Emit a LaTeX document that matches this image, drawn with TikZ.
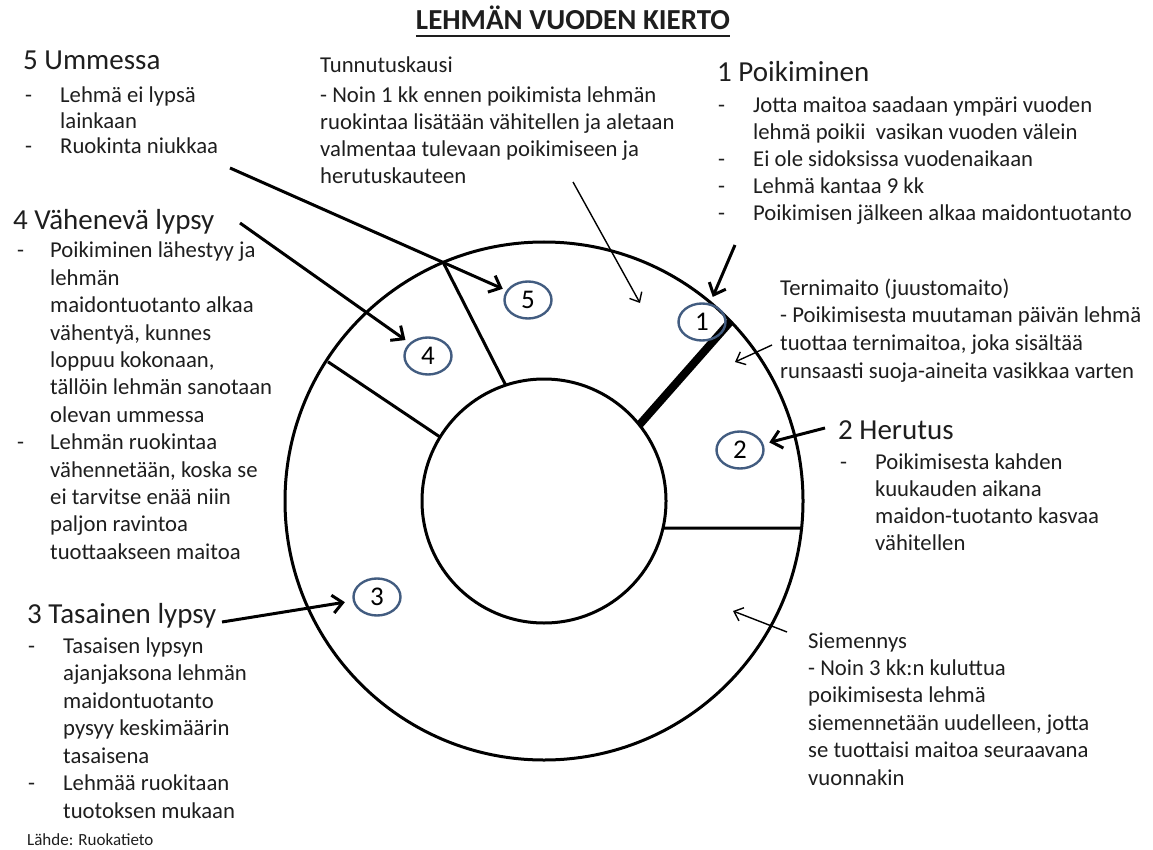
\documentclass[tikz,border=0pt]{standalone}
\usepackage{fontspec}
\setmainfont{Carlito}
\usetikzlibrary{shapes.geometric,arrows.meta}
\definecolor{numblue}{RGB}{66,92,128}
\definecolor{txtcol}{RGB}{30,30,30}
\newlength{\bulind}
\setlength{\bulind}{35pt}
\newcommand{\itm}[1]{\makebox[\bulind][l]{-}#1}
\newcommand{\itc}[1]{\hspace*{\bulind}#1}
\newcommand{\blk}[1]{\begin{tabular}[t]{@{}l@{}}#1\end{tabular}}
\tikzset{
  ring/.style={line width=3pt},
  txt/.style={anchor=base west, inner sep=0pt, text=txtcol, font=\fontsize{22.7}{27.3}\selectfont},
  head/.style={anchor=base west, inner sep=0pt, text=txtcol, font=\fontsize{29}{34}\selectfont},
  num/.style={ellipse, draw=numblue, line width=2.4pt, minimum width=47pt, minimum height=37pt, inner sep=0pt, font=\fontsize{27}{30}\selectfont},
  bigarrow/.style={line width=3pt, -{Straight Barb[length=10pt,width=18pt]}},
  thinarrow/.style={line width=1.4pt, -{Straight Barb[length=8pt,width=14pt]}},
}
\begin{document}
\begin{tikzpicture}[x=1pt,y=-1pt]
\useasboundingbox[fill=white] (0,0) rectangle (1153,850);

% title
\node[anchor=base, inner sep=0pt, text=txtcol, font=\fontsize{29}{34}\selectfont\bfseries] (ttl) at (573,30) {LEHMÄN VUODEN KIERTO};
\draw[line width=2pt, txtcol] ([yshift=-6pt]ttl.base west) -- ([yshift=-6pt]ttl.base east);

% rings
\coordinate (c) at (544,501);
\draw[ring] (c) circle[radius=259pt];
\draw[ring] (c) circle[radius=122pt];
\draw[ring] ([shift={(108.3:122pt)}]c) -- ([shift={(112.9:259pt)}]c);
\draw[ring] ([shift={(148.4:122pt)}]c) -- ([shift={(147.2:257pt)}]c);
\draw[ring] ([shift={(-12.8:122pt)}]c) -- ([shift={(-6:259pt)}]c);
\draw[line width=8pt] ([shift={(38.6:122pt)}]c) -- ([shift={(43.9:259pt)}]c);

% circled numbers
\node[num] (n1) at (702,322) {1};
\node[num] (n2) at (740,450) {2};
\node[num] (n3) at (377,597) {3};
\node[num] (n4) at (428,356) {4};
\node[num] (n5) at (528,300) {5};

% 5 Ummessa
\node[head] (h5) at (23,70) {5 Ummessa};
\node[txt, font=\fontsize{22.7}{25.5}\selectfont] (b5) at (25,103) {\blk{\itm{Lehmä ei lypsä}\\ \itc{lainkaan}\\ \itm{Ruokinta niukkaa}}};

% Tunnutuskausi
\node[txt] (ht) at (320,73) {Tunnutuskausi};
\node[txt, font=\fontsize{22.7}{26.7}\selectfont] (bt) at (320,103) {\blk{- Noin 1 kk ennen poikimista lehmän\\ ruokintaa lisätään vähitellen ja aletaan\\ valmentaa tulevaan poikimiseen ja\\ herutuskauteen}};

% 1 Poikiminen
\node[head] (h1) at (717,82) {1 Poikiminen};
\node[txt, font=\fontsize{22.7}{26.8}\selectfont] (b1) at (718,113) {\blk{\itm{Jotta maitoa saadaan ympäri vuoden}\\ \itc{lehmä poikii\ \ vasikan vuoden välein}\\ \itm{Ei ole sidoksissa vuodenaikaan}\\ \itm{Lehmä kantaa 9 kk}\\ \itm{Poikimisen jälkeen alkaa maidontuotanto}}};

% Ternimaito
\node[txt, font=\fontsize{22.7}{27.7}\selectfont] (bm) at (780,295) {\blk{Ternimaito (juustomaito)\\ - Poikimisesta muutaman päivän lehmä\\ tuottaa ternimaitoa, joka sisältää\\ runsaasti suoja-aineita vasikkaa varten}};

% 4 Vahenevä lypsy
\node[head] (h4) at (13,230) {4 Vähenevä lypsy};
\node[txt, font=\fontsize{22.7}{27.4}\selectfont] (b4) at (17,258) {\setlength{\bulind}{33pt}\blk{\itm{Poikiminen lähestyy ja}\\ \itc{lehmän}\\ \itc{maidontuotanto alkaa}\\ \itc{vähentyä, kunnes}\\ \itc{loppuu kokonaan,}\\ \itc{tällöin lehmän sanotaan}\\ \itc{olevan ummessa}\\ \itm{Lehmän ruokintaa}\\ \itc{vähennetään, koska se}\\ \itc{ei tarvitse enää niin}\\ \itc{paljon ravintoa}\\ \itc{tuottaakseen maitoa}}};

% 2 Herutus
\node[head] (h2) at (838,439) {2 Herutus};
\node[txt, font=\fontsize{22.7}{27}\selectfont] (b2) at (840,469) {\blk{\itm{Poikimisesta kahden}\\ \itc{kuukauden aikana}\\ \itc{maidon-tuotanto kasvaa}\\ \itc{vähitellen}}};

% 3 Tasainen lypsy
\node[head] (h3) at (27,623) {3 Tasainen lypsy};
\node[txt, font=\fontsize{22.7}{27.5}\selectfont] (b3) at (28,653) {\blk{\itm{Tasaisen lypsyn}\\ \itc{ajanjaksona lehmän}\\ \itc{maidontuotanto}\\ \itc{pysyy keskimäärin}\\ \itc{tasaisena}\\ \itm{Lehmää ruokitaan}\\ \itc{tuotoksen mukaan}}};

% Siemennys
\node[txt, font=\fontsize{22.7}{27.4}\selectfont] (bs) at (808,648) {\blk{Siemennys\\ - Noin 3 kk:n kuluttua\\ poikimisesta lehmä\\ siemennetään uudelleen, jotta\\ se tuottaisi maitoa seuraavana\\ vuonnakin}};

% source
\node[txt, font=\fontsize{17}{20}\selectfont] (src) at (27,845) {Lähde: Ruokatieto};

% arrows
\coordinate (a5) at (230,168);
\coordinate (a4) at (240,223);
\coordinate (a1) at (735,245);
\coordinate (a2) at (825,428);
\coordinate (a3) at (222,622);
\draw[bigarrow, shorten >=4pt] (a5) -- (n5);
\draw[bigarrow, shorten >=5pt] (a4) -- (n4);
\draw[bigarrow, shorten >=7pt] (a1) -- (n1);
\draw[bigarrow, shorten >=6pt] (a2) -- (n2);
\draw[bigarrow, shorten >=8pt] (a3) -- (n3);

\coordinate (ts) at (573,182);
\coordinate (te) at (640,303);
\coordinate (ms) at (772,345);
\coordinate (me) at (735,362);
\coordinate (ss) at (787,632);
\coordinate (se) at (733,611);
\draw[thinarrow] (ts) -- (te);
\draw[thinarrow] (ms) -- (me);
\draw[thinarrow] (ss) -- (se);
\end{tikzpicture}
\end{document}
